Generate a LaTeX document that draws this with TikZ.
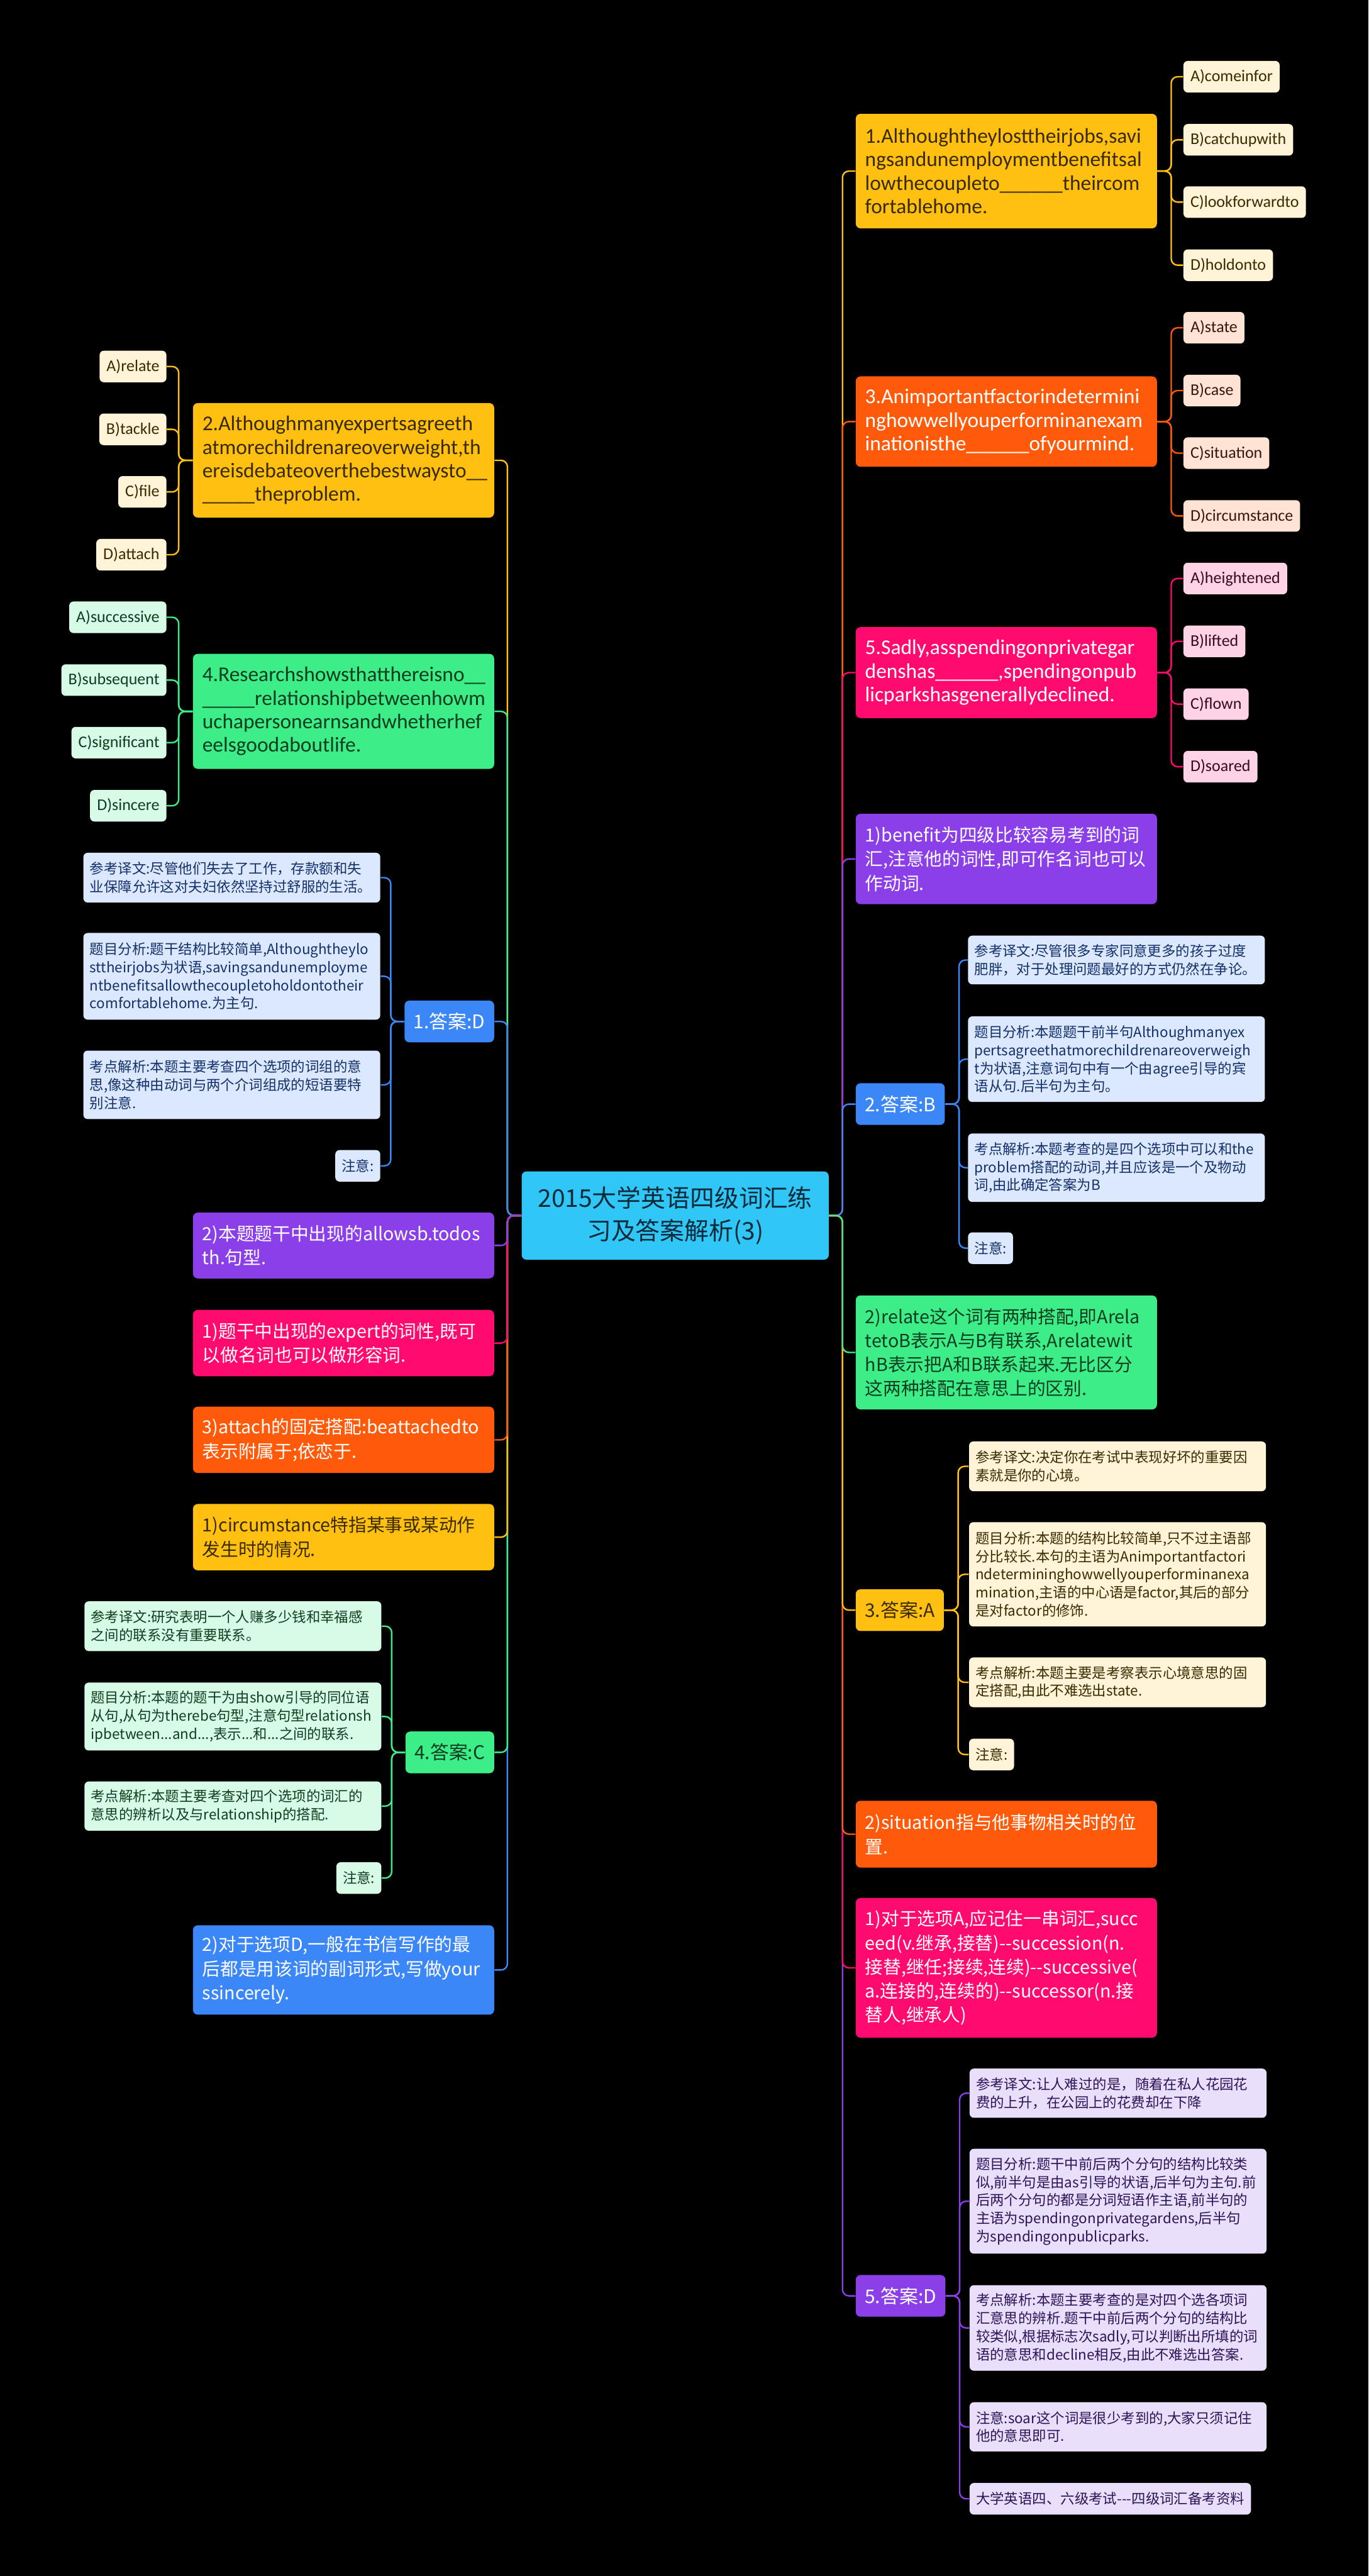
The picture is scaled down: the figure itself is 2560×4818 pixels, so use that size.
\documentclass[tikz,border=0pt]{standalone}
\usepackage{fontspec}
\setmainfont{Noto Sans CJK SC}
\newfontfamily\latfont{Carlito}
\usepackage{tikz}
\usetikzlibrary{positioning}
\definecolor{cyel}{HTML}{FFC012}
\definecolor{cora}{HTML}{FF5A0A}
\definecolor{cpnk}{HTML}{FF0A6E}
\definecolor{cpur}{HTML}{8A3FE8}
\definecolor{cblu}{HTML}{3C87F7}
\definecolor{cgrn}{HTML}{3DEE88}
\definecolor{ccyn}{HTML}{30C6F6}
\definecolor{lyel}{HTML}{FFF4D8}
\definecolor{lora}{HTML}{FFE3D4}
\definecolor{lpnk}{HTML}{FFD3E6}
\definecolor{lblu}{HTML}{DBE8FD}
\definecolor{lgrn}{HTML}{D8FBE7}
\definecolor{lpur}{HTML}{E9DFFB}
\definecolor{dyel}{HTML}{3A2A00}
\definecolor{dora}{HTML}{3A1606}
\definecolor{dpnk}{HTML}{3A0820}
\definecolor{dblu}{HTML}{14306A}
\definecolor{dgrn}{HTML}{0F3D1F}
\definecolor{dpur}{HTML}{2C1458}
\definecolor{dcyn}{HTML}{0C2A3A}

\begin{document}
\begin{tikzpicture}[
  x=0.01cm, y=-0.01cm,
  box/.style={rounded corners=0.09cm, inner ysep=0pt},
  big/.style={box, inner xsep=0.175cm, text width=5.28cm, align=left,
              font=\fontsize{9.6}{12.8}\selectfont},
  quest/.style={big, font=\latfont\fontsize{11.2}{12.5}\selectfont},
  ans/.style={box, inner xsep=0.17cm, minimum height=0.78cm,
              font=\fontsize{10}{12}\selectfont},
  opt/.style={box, rounded corners=0.08cm, inner xsep=0.13cm,
              minimum height=0.59cm, font=\latfont\fontsize{8.7}{10}\selectfont},
  info/.style={box, rounded corners=0.08cm, inner xsep=0.12cm, align=left,
               minimum height=0.59cm, font=\fontsize{7.5}{9.6}\selectfont},
  wide/.style={info, text width=5.31cm},
  link/.style={line width=0.8pt, rounded corners=0.12cm},
  yel/.style={fill=cyel, text=dyel},
  ora/.style={fill=cora, text=white},
  pnk/.style={fill=cpnk, text=white},
  pur/.style={fill=cpur, text=white},
  blu/.style={fill=cblu, text=white},
  grn/.style={fill=cgrn, text=dgrn},
  yelL/.style={fill=lyel, text=dyel},
  oraL/.style={fill=lora, text=dora},
  pnkL/.style={fill=lpnk, text=dpnk},
  bluL/.style={fill=lblu, text=dblu},
  grnL/.style={fill=lgrn, text=dgrn},
  purL/.style={fill=lpur, text=dpur}
]
\fill[black] (0,0) rectangle (2560,4818);
% centre
\node[box, fill=ccyn, text=dcyn, align=center, minimum width=5.74cm,
  minimum height=1.65cm, font=\fontsize{13}{17.4}\selectfont] (hub)
  at (1263,2273.5) {2015大学英语四级词汇练\\习及答案解析(3)};
% right: question 1
\node[quest, yel, anchor=west, minimum height=2.14cm] (q1) at (1600,320)
  {1.Althoughtheylosttheirjobs,savi\\ngsandunemploymentbenefitsal\\
   lowthecoupleto\_\_\_\_\_\_theircom\\fortablehome.};
\node[opt, yelL, anchor=west] (q1a) at (2213,143.5) {A)comeinfor};
\node[opt, yelL, anchor=west] (q1b) at (2213,261.5) {B)catchupwith};
\node[opt, yelL, anchor=west] (q1c) at (2213,378) {C)lookforwardto};
\node[opt, yelL, anchor=west] (q1d) at (2213,496) {D)holdonto};
% right: question 3
\node[quest, ora, anchor=west, minimum height=1.69cm] (q3) at (1600,788.5)
  {3.Animportantfactorindetermini\\nghowwellyouperforminanexam\\
   inationisthe\_\_\_\_\_\_ofyourmind.};
\node[opt, oraL, anchor=west] (q3a) at (2213,613) {A)state};
\node[opt, oraL, anchor=west] (q3b) at (2213,730.5) {B)case};
\node[opt, oraL, anchor=west] (q3c) at (2213,847.5) {C)situation};
\node[opt, oraL, anchor=west] (q3d) at (2213,965) {D)circumstance};
% right: question 5
\node[quest, pnk, anchor=west, minimum height=1.70cm] (q5) at (1600,1258)
  {5.Sadly,asspendingonprivategar\\denshas\_\_\_\_\_\_,spendingonpub\\
   licparkshasgenerallydeclined.};
\node[opt, pnkL, anchor=west] (q5a) at (2213,1082) {A)heightened};
\node[opt, pnkL, anchor=west] (q5b) at (2213,1199.5) {B)lifted};
\node[opt, pnkL, anchor=west] (q5c) at (2213,1317) {C)flown};
\node[opt, pnkL, anchor=west] (q5d) at (2213,1434) {D)soared};
% right: notes and answers
\node[big, pur, anchor=west, minimum height=1.69cm] (benefit) at (1600,1606.5)
  {1)benefit为四级比较容易考到的词\\汇,注意他的词性,即可作名词也可以\\作动词.};
\node[ans, blu, anchor=west] (ansB) at (1600,2065) {2.答案:B};
\node[wide, bluL, anchor=west, minimum height=0.91cm] (b1) at (1810,1795.5)
  {参考译文:尽管很多专家同意更多的孩子过度\\肥胖，对于处理问题最好的方式仍然在争论。};
\node[wide, bluL, anchor=west, minimum height=1.60cm] (b2) at (1810,1981)
  {题目分析:本题题干前半句Althoughmanyex\\pertsagreethatmorechildrenareoverweigh\\
   t为状语,注意词句中有一个由agree引导的宾\\语从句.后半句为主句。};
\node[wide, bluL, anchor=west, minimum height=1.28cm] (b3) at (1810,2184)
  {考点解析:本题考查的是四个选项中可以和the\\problem搭配的动词,并且应该是一个及物动\\
   词,由此确定答案为B};
\node[info, bluL, anchor=west] (b4) at (1810,2334.5) {注意:};
\node[big, grn, anchor=west, minimum height=2.13cm] (relate) at (1600,2529.5)
  {2)relate这个词有两种搭配,即Arela\\tetoB表示A与B有联系,Arelatewit\\
   hB表示把A和B联系起来.无比区分\\这两种搭配在意思上的区别.};
\node[ans, yel, anchor=west] (ansA) at (1600,3011.5) {3.答案:A};
\node[wide, yelL, anchor=west, minimum height=0.93cm] (a1) at (1812,2742.5)
  {参考译文:决定你在考试中表现好坏的重要因\\素就是你的心境。};
\node[wide, yelL, anchor=west, minimum height=1.95cm] (a2) at (1812,2944.5)
  {题目分析:本题的结构比较简单,只不过主语部\\分比较长.本句的主语为Animportantfactori\\
   ndetermininghowwellyouperforminanexa\\mination,主语的中心语是factor,其后的部分\\
   是对factor的修饰.};
\node[wide, yelL, anchor=west, minimum height=0.93cm] (a3) at (1812,3146.5)
  {考点解析:本题主要是考察表示心境意思的固\\定搭配,由此不难选出state.};
\node[info, yelL, anchor=west] (a4) at (1812,3281.5) {注意:};
\node[big, ora, anchor=west, minimum height=1.25cm] (situation) at (1600,3430.5)
  {2)situation指与他事物相关时的位\\置.};
\node[big, pnk, anchor=west, minimum height=2.61cm] (succ) at (1600,3680.5)
  {1)对于选项A,应记住一串词汇,succ\\eed(v.继承,接替)-{}-succession(n.\\
   接替,继任;接续,连续)-{}-successive(\\a.连接的,连续的)-{}-successor(n.接\\替人,继承人)};
\node[ans, pur, anchor=west] (ansD) at (1600,4294) {5.答案:D};
\node[wide, purL, anchor=west, minimum height=0.92cm] (d1) at (1813,3915)
  {参考译文:让人难过的是，随着在私人花园花\\费的上升，在公园上的花费却在下降};
\node[wide, purL, anchor=west, minimum height=1.96cm] (d2) at (1813,4117)
  {题目分析:题干中前后两个分句的结构比较类\\似,前半句是由as引导的状语,后半句为主句.前\\
   后两个分句的都是分词短语作主语,前半句的\\主语为spendingonprivategardens,后半句\\
   为spendingonpublicparks.};
\node[wide, purL, anchor=west, minimum height=1.60cm] (d3) at (1813,4354)
  {考点解析:本题主要考查的是对四个选各项词\\汇意思的辨析.题干中前后两个分句的结构比\\
   较类似,根据标志次sadly,可以判断出所填的词\\语的意思和decline相反,由此不难选出答案.};
\node[wide, purL, anchor=west, minimum height=0.92cm] (d4) at (1813,4539)
  {注意:soar这个词是很少考到的,大家只须记住\\他的意思即可.};
\node[info, purL, anchor=west] (d5) at (1813,4673.5)
  {大学英语四、六级考试-{}-{}-四级词汇备考资料};
% left: question 2
\node[quest, yel, anchor=east, minimum height=2.14cm] (q2) at (925,861)
  {2.Althoughmanyexpertsagreeth\\atmorechildrenareoverweight,th\\
   ereisdebateoverthebestwaysto\_\_\\\_\_\_\_\_theproblem.};
\node[opt, yelL, anchor=east] (q2a) at (312,685.5) {A)relate};
\node[opt, yelL, anchor=east] (q2b) at (312,803) {B)tackle};
\node[opt, yelL, anchor=east] (q2c) at (312,920) {C)file};
\node[opt, yelL, anchor=east] (q2d) at (312,1037.5) {D)attach};
% left: question 4
\node[quest, grn, anchor=east, minimum height=2.15cm] (q4) at (925,1330.5)
  {4.Researchshowsthatthereisno\_\_\\\_\_\_\_\_relationshipbetweenhowm\\
   uchapersonearnsandwhetherhef\\eelsgoodaboutlife.};
\node[opt, grnL, anchor=east] (q4a) at (312,1154.5) {A)successive};
\node[opt, grnL, anchor=east] (q4b) at (312,1272) {B)subsequent};
\node[opt, grnL, anchor=east] (q4c) at (312,1389) {C)significant};
\node[opt, grnL, anchor=east] (q4d) at (312,1507) {D)sincere};
% left: answers and notes
\node[ans, blu, anchor=east] (ansE) at (925,1910.5) {1.答案:D};
\node[wide, bluL, anchor=east, minimum height=0.93cm] (e1) at (712,1641.5)
  {参考译文:尽管他们失去了工作，存款额和失\\业保障允许这对夫妇依然坚持过舒服的生活。};
\node[wide, bluL, anchor=east, minimum height=1.62cm] (e2) at (712,1826)
  {题目分析:题干结构比较简单,Althoughtheylo\\sttheirjobs为状语,savingsandunemployme\\
   ntbenefitsallowthecoupletoholdontotheir\\comfortablehome.为主句.};
\node[wide, bluL, anchor=east, minimum height=1.28cm] (e3) at (712,2029)
  {考点解析:本题主要考查四个选项的词组的意\\思,像这种由动词与两个介词组成的短语要特\\别注意.};
\node[info, bluL, anchor=east] (e4) at (712,2180.5) {注意:};
\node[big, pur, anchor=east, minimum height=1.23cm] (allow) at (925,2329.5)
  {2)本题题干中出现的allowsb.todos\\th.句型.};
\node[big, pnk, anchor=east, minimum height=1.24cm] (expert) at (925,2512)
  {1)题干中出现的expert的词性,既可\\以做名词也可以做形容词.};
\node[big, ora, anchor=east, minimum height=1.24cm] (attach) at (925,2693)
  {3)attach的固定搭配:beattachedto\\表示附属于;依恋于.};
\node[big, yel, anchor=east, minimum height=1.24cm] (circ) at (925,2875)
  {1)circumstance特指某事或某动作\\发生时的情况.};
\node[ans, grn, anchor=east] (ansC) at (925,3277.5) {4.答案:C};
\node[wide, grnL, anchor=east, minimum height=0.93cm] (c1) at (714,3041.5)
  {参考译文:研究表明一个人赚多少钱和幸福感\\之间的联系没有重要联系。};
\node[wide, grnL, anchor=east, minimum height=1.27cm] (c2) at (714,3210.5)
  {题目分析:本题的题干为由show引导的同位语\\从句,从句为therebe句型,注意句型relationsh\\
   ipbetween...and...,表示...和...之间的联系.};
\node[wide, grnL, anchor=east, minimum height=0.92cm] (c3) at (714,3378)
  {考点解析:本题主要考查对四个选项的词汇的\\意思的辨析以及与relationship的搭配.};
\node[info, grnL, anchor=east] (c4) at (714,3512.5) {注意:};
\node[big, blu, anchor=east, minimum height=1.67cm] (sincere) at (925,3684.5)
  {2)对于选项D,一般在书信写作的最\\后都是用该词的副词形式,写做your\\ssincerely.};
% hub to right branches
\draw[link, cyel] (hub.east) -- ++(25,0) |- (q1.west);
\draw[link, cora] (hub.east) -- ++(25,0) |- (q3.west);
\draw[link, cpnk] (hub.east) -- ++(25,0) |- (q5.west);
\draw[link, cpur] (hub.east) -- ++(25,0) |- (benefit.west);
\draw[link, cblu] (hub.east) -- ++(25,0) |- (ansB.west);
\draw[link, cpur] (hub.east) -- ++(25,0) |- (ansD.west);
\draw[link, cpnk] (hub.east) -- ++(25,0) |- (succ.west);
\draw[link, cora] (hub.east) -- ++(25,0) |- (situation.west);
\draw[link, cyel] (hub.east) -- ++(25,0) |- (ansA.west);
\draw[link, cgrn] (hub.east) -- ++(25,0) |- (relate.west);
% hub to left branches
\draw[link, cyel] (hub.west) -- ++(-26,0) |- (q2.east);
\draw[link, cgrn] (hub.west) -- ++(-26,0) |- (q4.east);
\draw[link, cblu] (hub.west) -- ++(-26,0) |- (ansE.east);
\draw[link, cblu] (hub.west) -- ++(-26,0) |- (sincere.east);
\draw[link, cgrn] (hub.west) -- ++(-26,0) |- (ansC.east);
\draw[link, cyel] (hub.west) -- ++(-26,0) |- (circ.east);
\draw[link, cora] (hub.west) -- ++(-26,0) |- (attach.east);
\draw[link, cpnk] (hub.west) -- ++(-26,0) |- (expert.east);
\draw[link, cpur] (hub.west) -- ++(-26,0) |- (allow.east);
% options
\draw[link, cyel] (q1.east) -- ++(26,0) |- (q1a.west);
\draw[link, cyel] (q1.east) -- ++(26,0) |- (q1b.west);
\draw[link, cyel] (q1.east) -- ++(26,0) |- (q1c.west);
\draw[link, cyel] (q1.east) -- ++(26,0) |- (q1d.west);
\draw[link, cora] (q3.east) -- ++(26,0) |- (q3a.west);
\draw[link, cora] (q3.east) -- ++(26,0) |- (q3b.west);
\draw[link, cora] (q3.east) -- ++(26,0) |- (q3c.west);
\draw[link, cora] (q3.east) -- ++(26,0) |- (q3d.west);
\draw[link, cpnk] (q5.east) -- ++(26,0) |- (q5a.west);
\draw[link, cpnk] (q5.east) -- ++(26,0) |- (q5b.west);
\draw[link, cpnk] (q5.east) -- ++(26,0) |- (q5c.west);
\draw[link, cpnk] (q5.east) -- ++(26,0) |- (q5d.west);
\draw[link, cyel] (q2.west) -- ++(-26,0) |- (q2a.east);
\draw[link, cyel] (q2.west) -- ++(-26,0) |- (q2b.east);
\draw[link, cyel] (q2.west) -- ++(-26,0) |- (q2c.east);
\draw[link, cyel] (q2.west) -- ++(-26,0) |- (q2d.east);
\draw[link, cgrn] (q4.west) -- ++(-26,0) |- (q4a.east);
\draw[link, cgrn] (q4.west) -- ++(-26,0) |- (q4b.east);
\draw[link, cgrn] (q4.west) -- ++(-26,0) |- (q4c.east);
\draw[link, cgrn] (q4.west) -- ++(-26,0) |- (q4d.east);
% answer details
\draw[link, cblu] (ansB.east) -- ++(26,0) |- (b1.west);
\draw[link, cblu] (ansB.east) -- ++(26,0) |- (b2.west);
\draw[link, cblu] (ansB.east) -- ++(26,0) |- (b3.west);
\draw[link, cblu] (ansB.east) -- ++(26,0) |- (b4.west);
\draw[link, cyel] (ansA.east) -- ++(26,0) |- (a1.west);
\draw[link, cyel] (ansA.east) -- ++(26,0) |- (a2.west);
\draw[link, cyel] (ansA.east) -- ++(26,0) |- (a3.west);
\draw[link, cyel] (ansA.east) -- ++(26,0) |- (a4.west);
\draw[link, cpur] (ansD.east) -- ++(26,0) |- (d1.west);
\draw[link, cpur] (ansD.east) -- ++(26,0) |- (d2.west);
\draw[link, cpur] (ansD.east) -- ++(26,0) |- (d3.west);
\draw[link, cpur] (ansD.east) -- ++(26,0) |- (d4.west);
\draw[link, cpur] (ansD.east) -- ++(26,0) |- (d5.west);
\draw[link, cblu] (ansE.west) -- ++(-25,0) |- (e1.east);
\draw[link, cblu] (ansE.west) -- ++(-25,0) |- (e2.east);
\draw[link, cblu] (ansE.west) -- ++(-25,0) |- (e3.east);
\draw[link, cblu] (ansE.west) -- ++(-25,0) |- (e4.east);
\draw[link, cgrn] (ansC.west) -- ++(-25,0) |- (c1.east);
\draw[link, cgrn] (ansC.west) -- ++(-25,0) |- (c2.east);
\draw[link, cgrn] (ansC.west) -- ++(-25,0) |- (c3.east);
\draw[link, cgrn] (ansC.west) -- ++(-25,0) |- (c4.east);
\end{tikzpicture}
\end{document}
